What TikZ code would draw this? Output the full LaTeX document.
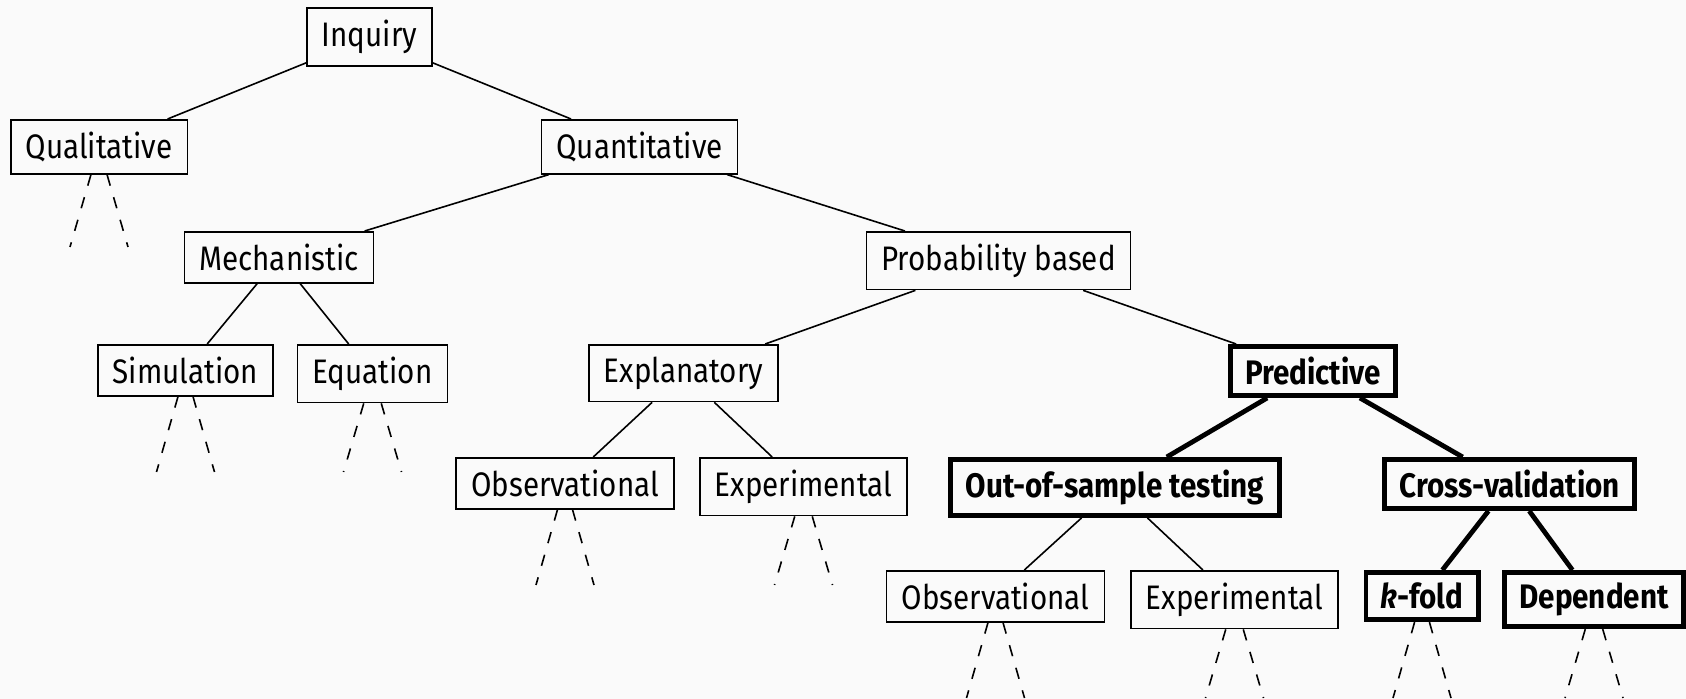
\documentclass[tikz,border=0pt]{standalone}
\usepackage{fontspec}
\setmainfont{Fira Sans}[FakeStretch=0.87]
\usetikzlibrary{positioning}
\definecolor{paper}{HTML}{FAFAFA}
\tikzset{
	box/.style={
		draw, line width=0.8pt, anchor=north,
		inner xsep=7.5pt, inner ysep=6pt,
		font=\fontsize{17}{20}\selectfont
	},
	key/.style={
		box, line width=2.4pt, inner ysep=5.25pt,
		font=\fontsize{17}{20}\selectfont\bfseries
	},
	every edge/.append style={
		line width=0.8pt
	},
	heavy/.style={
		line width=2.4pt
	},
	stub/.style={
		line width=0.8pt, dash pattern=on 5.75pt off 6pt
	}
}

\begin{document}
\begin{tikzpicture}[x=0.5pt,y=-0.5pt]
	\fill[paper] (0,0) rectangle (1686,699);
	\useasboundingbox (0,0) rectangle (1686,699);
	\draw
		node [box] (inq)   at (369.5,7.5) {Inquiry}

		node [box] (qual)  at (99,119)    {Qualitative}
		node [box] (quant) at (639.5,119) {Quantitative}

		node [box] (mech)  at (279,231)   {Mechanistic}
		node [box] (prob)  at (998.5,231) {Probability based}

		node [box] (sim)   at (185.5,344) {Simulation}
		node [box] (equ)   at (372.5,344) {Equation}
		node [box] (expl)  at (683.5,344) {Explanatory}
		node [key] (pred)  at (1313,344)  {Predictive}

		node [box] (obs1)  at (565,457)   {Observational}
		node [box] (exp1)  at (803.5,457) {Experimental}
		node [key] (oos)   at (1115,457)  {Out-of-sample testing}
		node [key] (cv)    at (1509.5,457) {Cross-validation}

		node [box] (obs2)  at (995.5,570) {Observational}
		node [box] (exp2)  at (1234.5,570) {Experimental}
		node [key] (kf)    at (1422,570)  {\textit{k}-fold}
		node [key] (dep)   at (1594,570)  {Dependent}

		(inq)   edge (qual)
		(inq)   edge (quant)
		(quant) edge (mech)
		(quant) edge (prob)
		(mech)  edge (sim)
		(mech)  edge (equ)
		(prob)  edge (expl)
		(prob)  edge (pred)
		(expl)  edge (obs1)
		(expl)  edge (exp1)
		(pred)  edge [heavy] (oos)
		(pred)  edge [heavy] (cv)
		(oos)   edge (obs2)
		(oos)   edge (exp2)
		(cv)    edge [heavy] (kf)
		(cv)    edge [heavy] (dep)
	;
	% open branches below the leaves
	\foreach \n in {qual,sim,equ,obs1,exp1,obs2,exp2,kf,dep} {
		\coordinate (\n-l) at ([shift={(-29,128)}]\n.north);
		\coordinate (\n-r) at ([shift={(29,128)}]\n.north);
		\draw [stub] (\n) -- (\n-l);
		\draw [stub] (\n) -- (\n-r);
	}
\end{tikzpicture}
\end{document}
